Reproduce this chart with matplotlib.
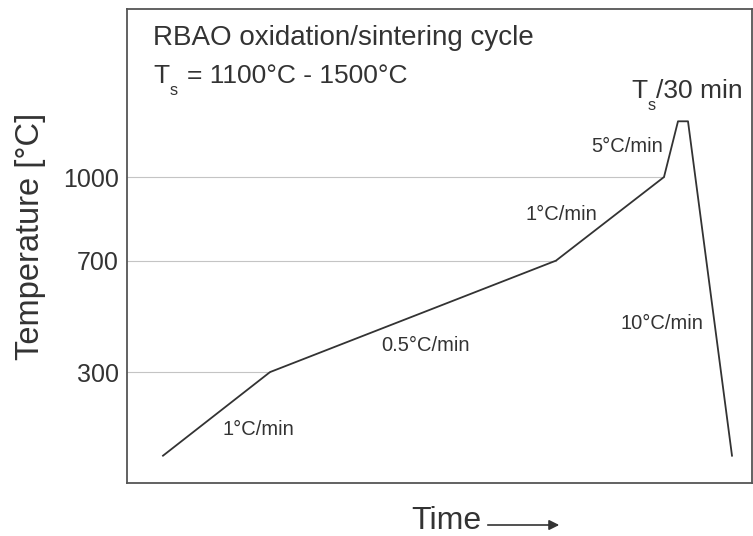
import matplotlib
matplotlib.use("Agg")
import matplotlib.pyplot as plt
from matplotlib.patches import FancyArrowPatch

plt.rcParams['font.family'] = ['Liberation Sans', 'DejaVu Sans']

# schematic firing cycle (time in arbitrary units, temperature in degC)
time = [36, 143, 429, 537, 551, 561, 605]
temp = [0, 300, 700, 1000, 1200, 1200, 0]

# reference levels, each drawn up to where the curve reaches it
ref_temps = [1000, 700, 300]
ref_times = [537, 429, 143]

ytick_vals = [300, 700, 1000]
ytick_labels = ['300', '700', '1000']

rate_labels = ['1°C/min', '0.5°C/min', '1°C/min', '5°C/min', '10°C/min']
rate_x = [131, 299, 434, 500, 535]
rate_y = [95, 396, 864, 1108, 476]

ink = '#333333'


def ts_label(ax, x, y, rest, fs, gap):
    """T with a dropped subscript s, followed by the rest of the text."""
    t = ax.text(x, y, 'T', fontsize=fs, color=ink, ha='left', va='baseline')
    ax.annotate('s', xy=(1, 0), xycoords=t, xytext=(0, -7),
                textcoords='offset points', fontsize=fs * 0.62, color=ink,
                ha='left', va='bottom')
    ax.annotate(rest, xy=(1, 0), xycoords=t, xytext=(gap, 0),
                textcoords='offset points', fontsize=fs, color=ink,
                ha='left', va='bottom')


fig = plt.figure(figsize=(7.53, 5.36), dpi=100)
ax = fig.add_axes([127 / 753, 53 / 536, 625 / 753, 474 / 536])

for t, x in zip(ref_temps, ref_times):
    ax.plot([0, x], [t, t], color='#c4c4c4', lw=0.8, zorder=1)

ax.plot(time, temp, color=ink, lw=1.3, zorder=3)

ax.set_xlim(0, 625)
ax.set_ylim(-98, 1603)
ax.set_xticks([])
ax.set_yticks(ytick_vals)
ax.set_yticklabels(ytick_labels)
ax.tick_params(axis='y', length=0, pad=6, labelsize=18, labelcolor=ink)
for s in ax.spines.values():
    s.set_color('#555555')
    s.set_linewidth(1.3)

ax.set_ylabel('Temperature [°C]', fontsize=23.5, color=ink)
ax.yaxis.set_label_coords(-0.13, 0.52)

for lab, x, y in zip(rate_labels, rate_x, rate_y):
    ax.text(x, y, lab, fontsize=14.5, color=ink, ha='center', va='center')

ax.text(26, 1474, 'RBAO oxidation/sintering cycle', fontsize=20, color=ink,
        ha='left', va='baseline')
ts_label(ax, 26, 1337, '= 1100°C - 1500°C', 19, 13)
ts_label(ax, 504, 1284, '/30 min', 19, 6.5)

fig.text(446 / 753, 1 - 521 / 536, 'Time', fontsize=23, color=ink,
         ha='center', va='center')
fig.add_artist(FancyArrowPatch(
    (485 / 753, 1 - 525 / 536), (562 / 753, 1 - 525 / 536),
    transform=fig.transFigure, arrowstyle='-|>', mutation_scale=15,
    color=ink, lw=1.2))

fig.savefig('out.png', dpi=100)
